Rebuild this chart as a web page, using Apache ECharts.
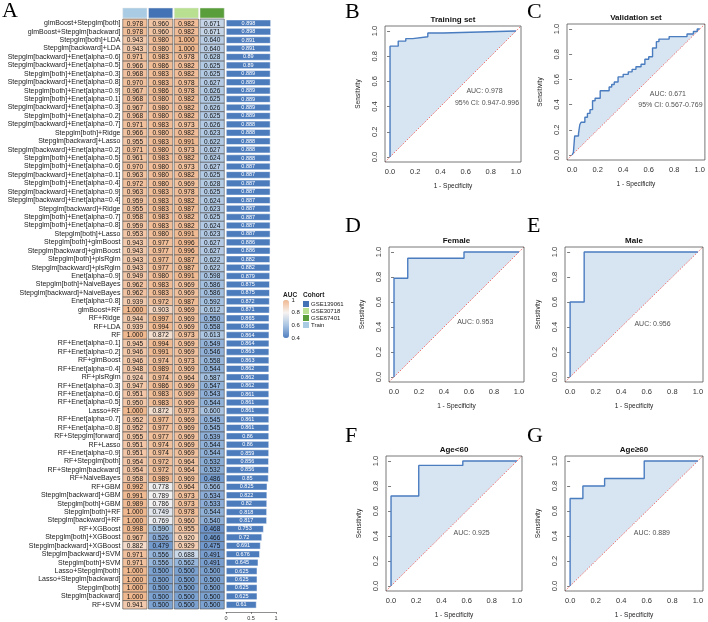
<!DOCTYPE html>
<html>
<head>
<meta charset="utf-8">
<script src="https://cdn.jsdelivr.net/npm/echarts@6.0.0/dist/echarts.min.js"></script>
<style>
  html, body { margin: 0; padding: 0; background: #fff; }
  #chart { width: 708px; height: 622px; }
</style>
</head>
<body>
<div id="chart"></div>
<script>
// ---- data: panel A ----
const methods = [
  'glmBoost+Stepglm[both]', 'glmBoost+Stepglm[backward]', 'Stepglm[both]+LDA', 'Stepglm[backward]+LDA',
  'Stepglm[backward]+Enet[alpha=0.6]', 'Stepglm[backward]+Enet[alpha=0.5]', 'Stepglm[both]+Enet[alpha=0.3]',
  'Stepglm[backward]+Enet[alpha=0.8]', 'Stepglm[both]+Enet[alpha=0.9]', 'Stepglm[both]+Enet[alpha=0.1]',
  'Stepglm[backward]+Enet[alpha=0.3]', 'Stepglm[both]+Enet[alpha=0.2]', 'Stepglm[backward]+Enet[alpha=0.7]',
  'Stepglm[both]+Ridge', 'Stepglm[backward]+Lasso', 'Stepglm[backward]+Enet[alpha=0.2]',
  'Stepglm[both]+Enet[alpha=0.5]', 'Stepglm[both]+Enet[alpha=0.6]', 'Stepglm[backward]+Enet[alpha=0.1]',
  'Stepglm[both]+Enet[alpha=0.4]', 'Stepglm[backward]+Enet[alpha=0.9]', 'Stepglm[backward]+Enet[alpha=0.4]',
  'Stepglm[backward]+Ridge', 'Stepglm[both]+Enet[alpha=0.7]', 'Stepglm[both]+Enet[alpha=0.8]',
  'Stepglm[both]+Lasso', 'Stepglm[both]+glmBoost', 'Stepglm[backward]+glmBoost', 'Stepglm[both]+plsRglm',
  'Stepglm[backward]+plsRglm', 'Enet[alpha=0.9]', 'Stepglm[both]+NaiveBayes', 'Stepglm[backward]+NaiveBayes',
  'Enet[alpha=0.8]', 'glmBoost+RF', 'RF+Ridge', 'RF+LDA', 'RF', 'RF+Enet[alpha=0.1]', 'RF+Enet[alpha=0.2]',
  'RF+glmBoost', 'RF+Enet[alpha=0.4]', 'RF+plsRglm', 'RF+Enet[alpha=0.3]', 'RF+Enet[alpha=0.6]',
  'RF+Enet[alpha=0.5]', 'Lasso+RF', 'RF+Enet[alpha=0.7]', 'RF+Enet[alpha=0.8]', 'RF+Stepglm[forward]',
  'RF+Lasso', 'RF+Enet[alpha=0.9]', 'RF+Stepglm[both]', 'RF+Stepglm[backward]', 'RF+NaiveBayes', 'RF+GBM',
  'Stepglm[backward]+GBM', 'Stepglm[both]+GBM', 'Stepglm[both]+RF', 'Stepglm[backward]+RF', 'RF+XGBoost',
  'Stepglm[both]+XGBoost', 'Stepglm[backward]+XGBoost', 'Stepglm[backward]+SVM', 'Stepglm[both]+SVM',
  'Lasso+Stepglm[both]', 'Lasso+Stepglm[backward]', 'Stepglm[both]', 'Stepglm[backward]', 'RF+SVM'
];
const cohorts = ['Train', 'GSE139061', 'GSE30718', 'GSE67401'];
const aucTrain = [
  0.978, 0.978, 0.943, 0.943, 0.971, 0.966, 0.968, 0.970, 0.967, 0.968,
  0.967, 0.968, 0.971, 0.966, 0.955, 0.971, 0.961, 0.970, 0.963, 0.972,
  0.963, 0.959, 0.955, 0.958, 0.959, 0.953, 0.943, 0.943, 0.943, 0.943,
  0.949, 0.962, 0.962, 0.939, 1.000, 0.944, 0.939, 1.000, 0.945, 0.946,
  0.946, 0.948, 0.924, 0.947, 0.951, 0.950, 1.000, 0.952, 0.952, 0.955,
  0.951, 0.951, 0.954, 0.954, 0.958, 0.992, 0.991, 0.989, 1.000, 1.000,
  0.998, 0.967, 0.882, 0.971, 0.971, 1.000, 1.000, 1.000, 1.000, 0.941
];
const aucGSE139061 = [
  0.960, 0.960, 0.980, 0.980, 0.983, 0.986, 0.983, 0.983, 0.986, 0.980,
  0.980, 0.980, 0.983, 0.980, 0.983, 0.980, 0.983, 0.980, 0.980, 0.980,
  0.983, 0.983, 0.983, 0.983, 0.983, 0.980, 0.977, 0.977, 0.977, 0.977,
  0.980, 0.983, 0.983, 0.972, 0.903, 0.997, 0.994, 0.872, 0.994, 0.991,
  0.974, 0.989, 0.974, 0.986, 0.983, 0.983, 0.872, 0.977, 0.977, 0.977,
  0.974, 0.974, 0.972, 0.972, 0.989, 0.778, 0.789, 0.786, 0.749, 0.769,
  0.590, 0.526, 0.479, 0.556, 0.556, 0.500, 0.500, 0.500, 0.500, 0.500
];
const aucGSE30718 = [
  0.982, 0.982, 1.000, 1.000, 0.978, 0.982, 0.982, 0.978, 0.978, 0.982,
  0.982, 0.982, 0.973, 0.982, 0.991, 0.973, 0.982, 0.973, 0.982, 0.969,
  0.978, 0.982, 0.987, 0.982, 0.982, 0.991, 0.996, 0.996, 0.987, 0.987,
  0.991, 0.969, 0.969, 0.987, 0.969, 0.969, 0.969, 0.973, 0.969, 0.969,
  0.973, 0.969, 0.964, 0.969, 0.969, 0.969, 0.973, 0.969, 0.969, 0.969,
  0.969, 0.969, 0.964, 0.964, 0.969, 0.964, 0.973, 0.973, 0.978, 0.960,
  0.955, 0.920, 0.929, 0.688, 0.562, 0.500, 0.500, 0.500, 0.500, 0.500
];
const aucGSE67401 = [
  0.671, 0.671, 0.640, 0.640, 0.628, 0.625, 0.625, 0.627, 0.626, 0.625,
  0.626, 0.625, 0.626, 0.623, 0.622, 0.627, 0.624, 0.627, 0.625, 0.628,
  0.625, 0.624, 0.623, 0.625, 0.624, 0.623, 0.627, 0.627, 0.622, 0.622,
  0.598, 0.586, 0.586, 0.592, 0.612, 0.550, 0.558, 0.613, 0.549, 0.546,
  0.558, 0.544, 0.587, 0.547, 0.543, 0.544, 0.600, 0.545, 0.545, 0.539,
  0.544, 0.544, 0.532, 0.532, 0.486, 0.566, 0.534, 0.533, 0.544, 0.540,
  0.468, 0.466, 0.475, 0.491, 0.491, 0.500, 0.500, 0.500, 0.500, 0.500
];
const meanAuc = [
  0.898, 0.898, 0.891, 0.891, 0.89, 0.89, 0.889, 0.889, 0.889, 0.889,
  0.889, 0.889, 0.888, 0.888, 0.888, 0.888, 0.888, 0.887, 0.887, 0.887,
  0.887, 0.887, 0.887, 0.887, 0.887, 0.887, 0.886, 0.886, 0.882, 0.882,
  0.879, 0.875, 0.875, 0.872, 0.871, 0.865, 0.865, 0.864, 0.864, 0.863,
  0.863, 0.862, 0.862, 0.862, 0.861, 0.861, 0.861, 0.861, 0.861, 0.86,
  0.86, 0.859, 0.856, 0.856, 0.85, 0.825, 0.822, 0.82, 0.818, 0.817,
  0.753, 0.72, 0.691, 0.676, 0.645, 0.625, 0.625, 0.625, 0.625, 0.61
];
const legendCohorts = ['GSE139061', 'GSE30718', 'GSE67401', 'Train'];
const aucLegendTicks = [1, 0.8, 0.6, 0.4];

// ---- data: panels B-G (1 - specificity, sensitivity) ----
const trainFpr = [0, 0, 0.065, 0.065, 0.125, 0.125, 0.18, 0.18, 0.3, 0.3, 0.42, 0.42, 1];
const trainTpr = [0, 0.88, 0.88, 0.92, 0.92, 0.94, 0.94, 0.955, 0.955, 0.985, 0.985, 1, 1];
const validFpr = [0, 0.01, 0.02, 0.02, 0.05, 0.05, 0.06, 0.06, 0.07, 0.07, 0.1, 0.1, 0.12, 0.12, 0.14, 0.14,
  0.16, 0.16, 0.18, 0.18, 0.22, 0.22, 0.29, 0.29, 0.31, 0.31, 0.33, 0.33, 0.36, 0.36, 0.4, 0.4, 0.44, 0.44,
  0.47, 0.47, 0.5, 0.5, 0.54, 0.54, 0.57, 0.57, 0.6, 0.6, 0.63, 0.63, 0.66, 0.66, 0.68, 0.68, 0.76, 0.76,
  0.9, 0.9, 0.95, 0.95, 0.98, 0.98, 1];
const validTpr = [0, 0.02, 0.02, 0.15, 0.15, 0.17, 0.17, 0.24, 0.24, 0.26, 0.26, 0.3, 0.3, 0.33, 0.33, 0.36,
  0.36, 0.43, 0.43, 0.45, 0.45, 0.51, 0.51, 0.54, 0.54, 0.56, 0.56, 0.58, 0.58, 0.62, 0.62, 0.64, 0.64, 0.66,
  0.66, 0.68, 0.68, 0.7, 0.7, 0.72, 0.72, 0.76, 0.76, 0.78, 0.78, 0.85, 0.85, 0.9, 0.9, 0.92, 0.92, 0.94,
  0.94, 0.96, 0.96, 0.98, 0.98, 1, 1];
const femaleFpr = [0, 0, 0.11, 0.11, 0.56, 0.56, 1];
const femaleTpr = [0, 0.79, 0.79, 0.95, 0.95, 1, 1];
const maleFpr = [0, 0, 0.11, 0.11, 1];
const maleTpr = [0, 0.6, 0.6, 1, 1];
const youngFpr = [0, 0, 0.22, 0.22, 0.57, 0.57, 1];
const youngTpr = [0, 0.72, 0.72, 0.965, 0.965, 1, 1];
const oldFpr = [0, 0, 0.1, 0.1, 0.27, 0.27, 0.58, 0.58, 1];
const oldTpr = [0, 0.7, 0.7, 0.8, 0.8, 0.86, 0.86, 1, 1];
const rocTitles = ['Training set', 'Validation set', 'Female', 'Male', 'Age<60', 'Age\u226560'];
const rocLetters = ['B', 'C', 'D', 'E', 'F', 'G'];
const aucLabels = ['AUC: 0.978', 'AUC: 0.671', 'AUC: 0.953', 'AUC: 0.956', 'AUC: 0.925', 'AUC: 0.889'];
const ciLabels = ['95% CI: 0.947-0.996', '95% CI: 0.567-0.769', '', '', '', ''];
const rocTicks = [0, 0.2, 0.4, 0.6, 0.8, 1];

// ---- layout / style ----
const chart = echarts.init(document.getElementById('chart'));
const FONT = 'Liberation Sans, Arial, sans-serif';
const cohortColors = { Train: '#a9cce4', GSE139061: '#4373b5', GSE30718: '#b9df90', GSE67401: '#5a9e3b' };
const hmLeft = 122, hmTop = 19, hmWidth = 103, hmHeight = 590;
const barLeft = 226, barWidth = 50;
// box of each ROC panel: left, top, width, height
const rocBoxes = [[385, 26, 136, 136], [567, 24, 138, 136], [389, 247, 135, 135],
  [565, 247, 138, 135], [386, 456, 136, 135], [565, 456, 138, 135]];
const rocCurves = [[trainFpr, trainTpr], [validFpr, validTpr], [femaleFpr, femaleTpr],
  [maleFpr, maleTpr], [youngFpr, youngTpr], [oldFpr, oldTpr]];
const aucPos = [[0.75, 0.52], [0.75, 0.48], [0.65, 0.44], [0.645, 0.42], [0.64, 0.42], [0.64, 0.42]];
const ciPos = [[0.77, 0.43], [0.77, 0.40]];
const letterPos = [[345, 1], [527, 1], [345, 215], [527, 215], [345, 425], [527, 425]];

const aucCols = [aucTrain, aucGSE139061, aucGSE30718, aucGSE67401];
const cellData = [];
aucCols.forEach((col, c) => col.forEach((v, r) => cellData.push([c, r, v])));

const grids = [
  { left: hmLeft, top: 8, width: hmWidth, height: 10 },
  { left: hmLeft, top: hmTop, width: hmWidth, height: hmHeight },
  { left: barLeft, top: hmTop, width: barWidth, height: hmHeight }
];
const xAxes = [
  { gridIndex: 0, type: 'category', data: cohorts, show: false },
  { gridIndex: 1, type: 'category', data: cohorts, show: false },
  {
    gridIndex: 2, type: 'value', min: 0, max: 1, interval: 0.5, offset: 3,
    axisLine: { show: true, lineStyle: { color: '#444', width: 0.6 } },
    axisTick: { show: true, length: 2, lineStyle: { color: '#444', width: 0.6 } },
    axisLabel: { fontSize: 5.5, color: '#333', margin: 3, fontFamily: FONT, formatter: v => String(v) },
    splitLine: { show: false }
  }
];
const yAxes = [
  { gridIndex: 0, type: 'category', data: ['cohort'], show: false },
  {
    gridIndex: 1, type: 'category', data: methods, inverse: true,
    axisLine: { show: false }, axisTick: { show: false },
    axisLabel: { fontSize: 7, color: '#1a1a1a', margin: 1.5, fontFamily: FONT, interval: 0 }
  },
  { gridIndex: 2, type: 'category', data: methods, inverse: true, show: false }
];

const series = [
  {
    type: 'custom', xAxisIndex: 0, yAxisIndex: 0,
    data: cohorts.map((c, i) => [i, 0]),
    renderItem: (params, api) => {
      const p = api.coord([api.value(0), api.value(1)]);
      const s = api.size([1, 1]);
      const w = s[0] - 1.5, h = s[1];
      return {
        type: 'rect', shape: { x: p[0] - w / 2, y: p[1] - h / 2, width: w, height: h },
        style: { fill: cohortColors[cohorts[api.value(0)]], stroke: '#e8e8e8', lineWidth: 0.5 }
      };
    }
  },
  {
    type: 'custom', xAxisIndex: 1, yAxisIndex: 1, data: cellData,
    encode: { x: 0, y: 1 },
    renderItem: (params, api) => {
      const p = api.coord([api.value(0), api.value(1)]);
      const s = api.size([1, 1]);
      const w = s[0] - 1.5, h = s[1];
      return {
        type: 'group', children: [
          {
            type: 'rect', shape: { x: p[0] - w / 2, y: p[1] - h / 2, width: w, height: h },
            style: { fill: api.visual('color'), stroke: '#4d4d4d', lineWidth: 0.6 }
          },
          {
            type: 'text',
            style: {
              text: api.value(2).toFixed(3), x: p[0], y: p[1] + 0.5, align: 'center', verticalAlign: 'middle',
              fontSize: 6.5, fontFamily: FONT, fill: '#111'
            }
          }
        ]
      };
    }
  },
  {
    type: 'bar', xAxisIndex: 2, yAxisIndex: 2, data: meanAuc, barWidth: '84%',
    itemStyle: { color: '#4d7cbd', borderColor: '#fff', borderWidth: 0.5 },
    label: {
      show: true, position: 'inside', fontSize: 5.5, color: '#fff', fontFamily: FONT,
      formatter: p => String(p.value)
    }
  }
];

const graphics = [
  { type: 'text', left: 2, top: 0, style: { text: 'A', fontSize: 22, fontFamily: 'Liberation Serif, Times New Roman, serif', fill: '#000' } },
  { type: 'text', left: 283, top: 292, style: { text: 'AUC', fontSize: 6.5, fontWeight: 'bold', fontFamily: FONT, fill: '#222' } },
  { type: 'text', left: 303, top: 292, style: { text: 'Cohort', fontSize: 6.5, fontWeight: 'bold', fontFamily: FONT, fill: '#222' } }
];
aucLegendTicks.forEach(t => {
  const y = 300 + (1 - t) / 0.6 * 38;
  graphics.push({ type: 'line', shape: { x1: 289, y1: y, x2: 291, y2: y }, style: { stroke: '#fff', lineWidth: 0.6 } });
  graphics.push({ type: 'text', x: 291.5, y: y, style: { text: String(t), fontSize: 6, fontFamily: FONT, fill: '#222', verticalAlign: 'middle' } });
});
legendCohorts.forEach((c, i) => {
  const y = 301 + i * 7;
  graphics.push({ type: 'rect', shape: { x: 303, y: y, width: 6, height: 6 }, style: { fill: cohortColors[c] } });
  graphics.push({ type: 'text', x: 311, y: y + 3.2, style: { text: c, fontSize: 6, fontFamily: FONT, fill: '#222', verticalAlign: 'middle' } });
});

rocBoxes.forEach((b, i) => {
  const gi = 3 + i;
  grids.push({
    left: b[0], top: b[1], width: b[2], height: b[3], show: true, z: 10,
    borderColor: '#555', borderWidth: 0.8, backgroundColor: 'transparent'
  });
  const axisCommon = {
    gridIndex: gi, type: 'value', min: -0.04, max: 1.04,
    axisLine: { show: false },
    axisTick: { show: true, length: 3, customValues: rocTicks, lineStyle: { color: '#444', width: 0.7 } },
    splitLine: { show: false },
    nameLocation: 'middle',
    nameTextStyle: { fontSize: 6.5, color: '#222', fontFamily: FONT }
  };
  xAxes.push(Object.assign({}, axisCommon, {
    name: '1 - Specificity', nameGap: 21,
    axisLabel: { customValues: rocTicks, formatter: v => v.toFixed(1), fontSize: 7.5, color: '#333', margin: 6, fontFamily: FONT }
  }));
  yAxes.push(Object.assign({}, axisCommon, {
    name: 'Sensitivity', nameGap: 23,
    axisLabel: { customValues: rocTicks, formatter: v => v.toFixed(1), fontSize: 7.5, color: '#333', margin: 6, rotate: 90, fontFamily: FONT }
  }));
  const curve = rocCurves[i][0].map((x, k) => [x, rocCurves[i][1][k]]);
  series.push({
    type: 'line', xAxisIndex: gi, yAxisIndex: gi, data: curve, symbol: 'none', z: 1,
    lineStyle: { width: 0, opacity: 0 }, areaStyle: { color: '#d7e4f1', opacity: 1, origin: 'start' }
  });
  series.push({
    type: 'line', xAxisIndex: gi, yAxisIndex: gi, data: [[-0.04, -0.04], [1.04, 1.04]], symbol: 'none', z: 2,
    lineStyle: { color: '#ee4b4b', width: 1, type: [1, 1.6] }, areaStyle: { color: '#fff', opacity: 1, origin: 'start' }
  });
  series.push({
    type: 'line', xAxisIndex: gi, yAxisIndex: gi, data: curve, symbol: 'none', z: 3,
    lineStyle: { color: '#4a7cc0', width: 1.4 }
  });
  const notes = [[aucPos[i][0], aucPos[i][1], aucLabels[i]]];
  if (ciLabels[i]) notes.push([ciPos[i][0], ciPos[i][1], ciLabels[i]]);
  series.push({
    type: 'scatter', xAxisIndex: gi, yAxisIndex: gi, data: notes, symbolSize: 0, z: 4, silent: true,
    label: { show: true, position: 'inside', formatter: p => p.value[2], fontSize: 7, color: '#222', fontFamily: FONT }
  });
  const cx = b[0] + b[2] / 2;
  graphics.push({ type: 'text', x: cx, y: b[1] - 6, style: { text: rocTitles[i], fontSize: 8, fontWeight: 'bold', fontFamily: FONT, fill: '#111', align: 'center', verticalAlign: 'middle' } });
  graphics.push({ type: 'text', left: letterPos[i][0], top: letterPos[i][1], style: { text: rocLetters[i], fontSize: 22, fontFamily: 'Liberation Serif, Times New Roman, serif', fill: '#000' } });
});

chart.setOption({
  animation: false,
  backgroundColor: '#fff',
  grid: grids,
  xAxis: xAxes,
  yAxis: yAxes,
  visualMap: {
    type: 'continuous', seriesIndex: 1, dimension: 2, min: 0.4, max: 1,
    left: 283, top: 300, itemWidth: 6, itemHeight: 38, padding: 0,
    calculable: false, text: null, showLabel: false,
    inRange: { color: ['#4f7fc0', '#a9c4e2', '#f7f3f1', '#f0b88f'] }
  },
  series: series,
  graphic: graphics
});
</script>
</body>
</html>
